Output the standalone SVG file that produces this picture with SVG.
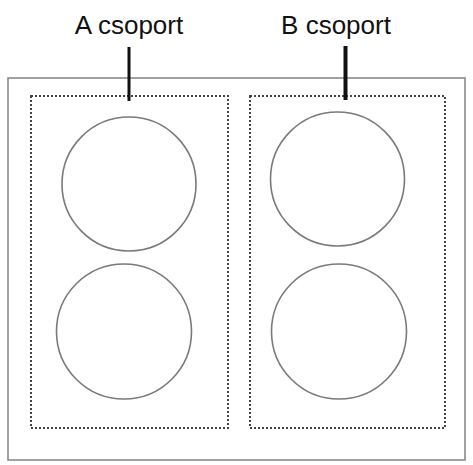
<svg xmlns="http://www.w3.org/2000/svg" width="473" height="465" viewBox="0 0 473 465">
<style>
.frame{fill:none;stroke:#8a8a8a;stroke-width:1.6}
.group{fill:none;stroke:#444;stroke-width:2;stroke-dasharray:2 2}
.disc{fill:none;stroke:#7a7a7a;stroke-width:1.6}
.lbl{font-family:"Liberation Sans",Arial,sans-serif;font-size:26px;fill:#111;text-anchor:middle}
.lead{stroke:#111;stroke-linecap:butt}
</style>
<rect width="473" height="465" fill="#fff"/>
<rect class="frame" x="8" y="78" width="457" height="382"/>
<g id="groupA">
<rect class="group" x="31" y="96" width="197" height="332"/>
<circle class="disc" cx="129" cy="184" r="67"/>
<circle class="disc" cx="124" cy="331.5" r="67.5"/>
</g>
<g id="groupB">
<rect class="group" x="250" y="96" width="195" height="332"/>
<circle class="disc" cx="337.5" cy="179" r="67"/>
<circle class="disc" cx="339" cy="331.5" r="67.5"/>
</g>
<g id="labelA">
<text class="lbl" x="129" y="34">A csoport</text>
</g>
<g id="labelB">
<text class="lbl" x="336" y="34">B csoport</text>
</g>
<g id="connectors">
<line class="lead" x1="129" y1="47" x2="129" y2="101" stroke-width="3"/>
<line class="lead" x1="345.5" y1="46" x2="345.5" y2="100" stroke-width="4"/>
</g>
</svg>
